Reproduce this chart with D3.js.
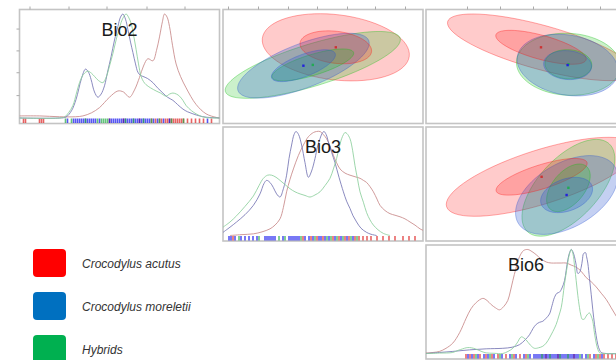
<!DOCTYPE html>
<html>
<head>
<meta charset="utf-8">
<script src="https://cdn.jsdelivr.net/npm/d3@7"></script>
<style>
  body { margin: 0; background: #fff; }
  svg { display: block; font-family: "Liberation Sans", Arial, sans-serif; }
</style>
</head>
<body>
<svg id="chart" width="616" height="360"></svg>
<script>
const groups = ['acutus', 'moreletii', 'hybrids']
const legendLabels = ['Crocodylus acutus', 'Crocodylus moreletii', 'Hybrids']
const variables = ['Bio2', 'Bio3', 'Bio6']

// density curves: x as % of variable range, y scaled so the highest peak is 1
const bio2Acutus = [[0,.02],[10,.02],[20,.012],[28,.012],[31.7,.02],[36,.05],[40,.1],[45,.2],[49.2,.26],[52,.25],[55,.2],[57.5,.27],[60,.39],[62,.5],[64.2,.57],[66.7,.55],[68.5,.65],[70,.78],[71.5,.93],[72.5,1],[73.8,.97],[75,.88],[76.5,.7],[78.3,.52],[80.5,.4],[83.3,.29],[88.3,.13],[93.3,.04],[98.3,.006],[100,0]]
const bio2Moreletii = [[0,0],[20,0],[23.3,.01],[26,.07],[28.3,.18],[31,.38],[33,.47],[34.5,.44],[35.8,.37],[37.5,.25],[39.2,.2],[40.8,.23],[42.5,.31],[44,.44],[45.8,.59],[47.5,.75],[49.2,.88],[50.5,.97],[51.7,1],[53,.95],[54.2,.85],[55.5,.73],[56.7,.63],[58,.52],[59.2,.44],[60.5,.41],[61.7,.40],[64,.38],[66.7,.34],[69,.29],[71.7,.24],[74,.2],[76.7,.17],[79,.13],[81.7,.086],[84,.06],[86.7,.04],[90,.02],[93.3,.008],[100,0]]
const bio2Hybrids = [[0,0],[20,0],[22.5,.01],[24.5,.05],[26.7,.12],[28.5,.24],[30,.34],[32,.42],[34.2,.45],[36,.43],[37.5,.40],[39.5,.36],[41.7,.34],[43.5,.4],[45,.5],[46.7,.62],[48.3,.75],[50,.87],[51.7,.96],[53.3,1],[54.5,.97],[55.8,.91],[57,.8],[58.3,.66],[59.5,.52],[60.8,.4],[62,.35],[63.3,.32],[65.5,.29],[68.3,.26],[70.5,.24],[73.3,.21],[75,.23],[76.7,.24],[78.5,.23],[80,.21],[81.7,.17],[83.3,.12],[86,.07],[88.3,.04],[91,.015],[93.3,.004],[100,0]]

const bio3Acutus = [[3.5,0],[9,.008],[15.2,.016],[19.5,.035],[23.5,.064],[26,.1],[28.5,.16],[30.2,.27],[31.8,.42],[33.5,.54],[35.2,.64],[37.7,.77],[40.2,.87],[42.7,.95],[45.2,.99],[46.8,1],[48.5,1],[50.2,.97],[51.8,.93],[53.5,.86],[55.2,.77],[56.8,.7],[58.5,.64],[61,.6],[63.5,.58],[66,.565],[68.5,.55],[70.2,.53],[71.8,.51],[73.5,.47],[75.2,.42],[77,.35],[78.5,.29],[81,.24],[83.5,.21],[86,.195],[88.5,.18],[91,.16],[93.5,.13],[96,.1],[98.5,.064],[100,.05]]
const bio3Moreletii = [[0,.03],[3.5,.08],[6.8,.13],[11,.2],[15.2,.29],[18.5,.4],[20.5,.5],[21.8,.53],[23.5,.51],[25.2,.46],[26.8,.4],[28.5,.37],[30.2,.45],[31.8,.58],[33,.74],[34.3,.87],[35.5,.97],[36.5,1],[37.8,.97],[39.3,.87],[41,.7],[42.7,.56],[44.3,.62],[46,.74],[47.3,.86],[48.5,.93],[49.5,.98],[50.5,1],[51.6,.97],[52.7,.9],[54.3,.8],[56,.7],[58,.56],[60.2,.42],[61.8,.33],[63.5,.26],[65,.19],[66.8,.13],[69,.07],[71.8,.03],[74,.012],[76.8,0]]
const bio3Hybrids = [[0,.08],[3.5,.13],[6.8,.19],[11,.28],[15.2,.38],[18,.48],[20.2,.55],[22.3,.58],[24.3,.58],[26.5,.56],[28.5,.53],[31,.49],[33.5,.45],[36,.42],[38.5,.4],[41,.385],[43.5,.37],[46,.39],[48.5,.42],[51,.48],[53.5,.55],[55.2,.64],[56.8,.74],[58,.84],[59.3,.93],[60.2,.97],[61,.99],[62,.98],[63.5,.93],[64.8,.82],[66,.67],[67.2,.55],[68.5,.42],[70.2,.32],[71.8,.22],[73.5,.15],[75.2,.1],[77.5,.055],[80.2,.02],[83.5,0]]

const bio6Acutus = [[0,.005],[3.5,.01],[6.75,.02],[10,.05],[13.4,.1],[16.8,.2],[20.1,.34],[22.5,.43],[25.1,.49],[28.4,.53],[30.5,.51],[32.6,.47],[34.7,.44],[36.75,.42],[38.8,.45],[40.9,.51],[42.2,.6],[43.4,.7],[45,.82],[46.75,.93],[48.8,.99],[50.9,1],[53,.98],[55.1,.95],[57.5,.91],[60.1,.88],[62.6,.87],[65.1,.87],[67.6,.87],[70.1,.87],[72.6,.85],[75.1,.83],[77.6,.79],[80.1,.73],[82.6,.69],[85.1,.64],[87.6,.58],[90.1,.52],[92.6,.44],[95.1,.36],[97.6,.28],[100,.21]]
const bio6Moreletii = [[0,0],[6.75,.01],[13.4,.02],[21.75,.035],[30.1,.045],[38.4,.05],[43,.06],[46.75,.085],[49.5,.13],[51.75,.18],[53.5,.24],[55.1,.28],[56.75,.3],[58.4,.31],[60.1,.34],[61.75,.38],[63,.46],[64.25,.54],[65.5,.58],[66.75,.59],[68,.63],[69.25,.7],[70.1,.8],[70.9,.9],[71.8,.97],[72.6,1],[73.4,.98],[74.25,.93],[75.1,.85],[75.9,.77],[76.8,.78],[77.6,.83],[78.2,.9],[78.75,.96],[79.75,.97],[80.3,.93],[80.9,.87],[81.75,.72],[82.6,.57],[83.4,.42],[84.25,.28],[85.1,.17],[85.9,.085],[86.75,.035],[87.6,.01],[90.1,0],[100,0]]
const bio6Hybrids = [[0,0],[6.75,.004],[13.4,.01],[16,.03],[18.4,.045],[20.1,.055],[21.75,.057],[23.8,.05],[25.9,.035],[28,.018],[30.1,.006],[34,.002],[38.4,0],[41,.02],[43.4,.05],[45.5,.1],[47.6,.16],[48.9,.15],[50.1,.13],[52.2,.08],[54.25,.05],[56.3,.055],[58.4,.07],[60.1,.1],[61.75,.15],[63.4,.21],[65.1,.28],[66.4,.36],[67.6,.44],[68.4,.54],[69.25,.67],[70.3,.8],[71.4,.93],[72.1,.98],[72.6,1],[73.2,.98],[73.75,.93],[74.4,.82],[75.1,.7],[75.9,.56],[76.75,.44],[77.4,.37],[78.1,.33],[79.1,.33],[80.1,.36],[80.9,.38],[81.75,.39],[82.6,.36],[83.4,.31],[84.2,.2],[85.1,.1],[85.9,.04],[86.75,.008],[88.4,0],[100,0]]

const densities = {
  Bio2: [bio2Acutus, bio2Moreletii, bio2Hybrids],
  Bio3: [bio3Acutus, bio3Moreletii, bio3Hybrids],
  Bio6: [bio6Acutus, bio6Moreletii, bio6Hybrids]
}

// rug marks: observations as % of variable range
const bio2RugAcutus = [2, 3, 10, 11, 12, 45, 52, 60, 66, 68, 70, 71, 73, 74, 75, 76, 77, 78, 79, 80, 81, 82, 84, 86, 88, 90, 92, 96]
const bio2RugMoreletii = [24, 27, 28, 29, 30, 31, 32, 33, 34, 35, 36, 37, 38, 40, 45, 46, 47, 48, 49, 50, 51, 52, 53, 54, 55, 56, 57, 58, 59, 60, 61, 62, 63, 64, 65, 67, 69, 72, 75, 94]
const bio2RugHybrids = [23, 26, 33, 39, 41, 42, 43, 44, 53, 57, 62, 66, 70, 76, 82]
const bio3RugAcutus = [5, 40, 44, 47, 50, 55, 58, 61, 63, 66, 68, 70, 72, 74, 77, 80, 83, 86, 90, 93, 96]
const bio3RugMoreletii = [3, 4, 6, 9, 11, 13, 15, 17, 21, 22, 23, 24, 25, 26, 30, 33, 34, 35, 36, 37, 38, 41, 43, 45, 48, 49, 51, 53, 56, 59, 62, 65]
const bio3RugHybrids = [8, 18, 28, 31, 39, 46, 52, 54, 57, 60, 64, 67]
const bio6RugAcutus = [20, 22, 24, 27, 30, 33, 36, 40, 44, 47, 50, 60, 66, 74, 82, 85, 87, 89, 91, 93, 95]
const bio6RugMoreletii = [21, 23, 26, 29, 31, 34, 38, 42, 45, 49, 52, 54, 55, 56, 57, 58, 59, 60, 61, 62, 63, 64, 65, 66, 67, 68, 69, 70, 71, 72, 73, 74, 75, 76, 78, 80, 84, 88]
const bio6RugHybrids = [25, 32, 37, 43, 51, 58, 62, 67, 71, 77, 81, 86]

const rugs = {
  Bio2: [bio2RugAcutus, bio2RugMoreletii, bio2RugHybrids],
  Bio3: [bio3RugAcutus, bio3RugMoreletii, bio3RugHybrids],
  Bio6: [bio6RugAcutus, bio6RugMoreletii, bio6RugHybrids]
}

// confidence ellipses: [group, cx, cy, semi-axis a, semi-axis b, angle deg], outer then inner
const ellBio2Bio3 = [
  ['acutus', 56.4, 38.1, 37, 16.3, -7], ['hybrids', 44.9, 29.3, 45.7, 10.5, 17], ['moreletii', 40.2, 28.9, 35, 11, 21],
  ['acutus', 56.4, 38.1, 18, 8, -7], ['hybrids', 44.9, 29.3, 21.3, 5.2, 17], ['moreletii', 40.2, 28.9, 17, 5.5, 21]
]
const ellBio2Bio6 = [
  ['acutus', 57.5, 38.1, 48.4, 11, -15.4], ['hybrids', 71.2, 29.6, 26, 15.5, -3], ['moreletii', 70.8, 29.2, 25.5, 15, -10],
  ['acutus', 57.5, 38.1, 23.4, 6, -15.4], ['hybrids', 71.2, 29.6, 11.7, 7.3, -3], ['moreletii', 70.8, 29.2, 12, 7.2, -5]
]
const ellBio3Bio6 = [
  ['acutus', 57.8, 32.1, 49.8, 13.5, 17.5], ['hybrids', 71.2, 26.6, 30, 15, 47], ['moreletii', 70.3, 23, 28, 16, 30],
  ['acutus', 57.8, 32.1, 23.8, 6, 17.5], ['hybrids', 71.2, 26.6, 14, 8, 50], ['moreletii', 70.3, 23, 13.5, 8, 20]
]

const topTicks = [[5, 24.5, 43.5, 63.5, 82.5], [2.5, 17.5, 32.5, 47, 62, 76, 91], [20.5, 37, 53.5, 70.5, 87]]
const leftTicks = [0.22, 0.44, 0.65, 0.86]

const lineColor = { acutus: '#c88a8a', moreletii: '#7676b4', hybrids: '#8ccf9c' }
const rugColor = { acutus: '#dd2222', moreletii: '#1010ee', hybrids: '#22aa44' }
const fillColor = { acutus: '#ff1010', moreletii: '#2a55d0', hybrids: '#10c010' }
const fillOpacity = { acutus: 0.22, moreletii: 0.28, hybrids: 0.22 }
const dotColor = { acutus: '#cc3333', moreletii: '#2222dd', hybrids: '#22aa55' }
const legendColor = ['#ff0000', '#0070c0', '#00b050']

const svg = d3.select('#chart')
const lefts = [19.5, 223, 426]
const tops = [9.5, 127, 245]
const pw = 200, ph = 114

const defs = svg.append('defs')

function panel(row, col) {
  const id = 'clip-' + row + '-' + col
  defs.append('clipPath').attr('id', id)
    .append('rect').attr('x', lefts[col]).attr('y', tops[row]).attr('width', pw).attr('height', ph)
  const g = svg.append('g')
  g.append('rect')
    .attr('x', lefts[col]).attr('y', tops[row])
    .attr('width', pw).attr('height', ph)
    .attr('fill', '#fff').attr('stroke', '#c4c4c4').attr('stroke-width', 1.6)
  return g.append('g').attr('clip-path', 'url(#' + id + ')')
}

// diagonal: density + rug
variables.forEach((v, i) => {
  const g = panel(i, i)
  const x = d3.scaleLinear().domain([0, 100]).range([lefts[i], lefts[i] + pw])
  const y = d3.scaleLinear().domain([0, 1]).range([tops[i] + 108.5, tops[i] + 4.5])
  const line = d3.line().x(d => x(d[0])).y(d => y(d[1])).curve(d3.curveCatmullRom.alpha(0.5))

  groups.forEach((gr, k) => {
    g.selectAll(null).data(rugs[v][k]).enter().append('line')
      .attr('x1', d => x(d)).attr('x2', d => x(d))
      .attr('y1', tops[i] + 109).attr('y2', tops[i] + 113.5)
      .attr('stroke', rugColor[gr]).attr('stroke-width', 1.6).attr('opacity', 0.7)
  })
  groups.forEach((gr, k) => {
    g.append('path').datum(densities[v][k])
      .attr('d', line).attr('fill', 'none')
      .attr('stroke', lineColor[gr]).attr('stroke-width', 1).attr('opacity', 0.85)
  })

  svg.append('text')
    .attr('x', lefts[i] + pw / 2).attr('y', tops[i] + 26)
    .attr('text-anchor', 'middle').attr('font-size', 18).attr('fill', '#1a1a1a')
    .text(v)

  if (i === 0) {
    svg.append('g').attr('transform', 'translate(' + lefts[0] + ',0)')
      .call(d3.axisLeft(y).tickValues(leftTicks).tickFormat('').tickSize(3))
      .call(a => a.select('.domain').remove())
      .call(a => a.selectAll('line').attr('stroke', '#aaa'))
  }
})

// upper triangle: ellipses
const ellipsePanels = [[0, 1, ellBio2Bio3], [0, 2, ellBio2Bio6], [1, 2, ellBio3Bio6]]
ellipsePanels.forEach(([row, col, ells]) => {
  const g = panel(row, col)
  const x = d3.scaleLinear().domain([0, 100]).range([lefts[col], lefts[col] + pw])
  const y = d3.scaleLinear().domain([0, 57]).range([tops[row] + ph, tops[row]])
  const steps = d3.range(0, 73).map(k => k / 72 * 2 * Math.PI)
  const line = d3.line().x(d => x(d[0])).y(d => y(d[1])).curve(d3.curveLinearClosed)

  ells.forEach(([gr, cx, cy, a, b, ang]) => {
    const th = ang * Math.PI / 180
    const pts = steps.map(t => [
      cx + a * Math.cos(t) * Math.cos(th) - b * Math.sin(t) * Math.sin(th),
      cy + a * Math.cos(t) * Math.sin(th) + b * Math.sin(t) * Math.cos(th)
    ])
    g.append('path').datum(pts).attr('d', line)
      .attr('fill', fillColor[gr]).attr('fill-opacity', fillOpacity[gr])
      .attr('stroke', fillColor[gr]).attr('stroke-opacity', 0.35).attr('stroke-width', 1)
  })
  ells.slice(0, 3).forEach(([gr, cx, cy]) => {
    g.append('rect').attr('x', x(cx) - 1.2).attr('y', y(cy) - 1.2)
      .attr('width', 2.4).attr('height', 2.4).attr('fill', dotColor[gr])
  })
})

// outer top ticks on first row
topTicks.forEach((tv, col) => {
  const x = d3.scaleLinear().domain([0, 100]).range([lefts[col], lefts[col] + pw])
  svg.append('g').attr('transform', 'translate(0,' + tops[0] + ')')
    .call(d3.axisTop(x).tickValues(tv).tickFormat('').tickSize(3))
    .call(a => a.select('.domain').remove())
    .call(a => a.selectAll('line').attr('stroke', '#aaa'))
})

// legend
const legend = svg.append('g')
legendLabels.forEach((lab, k) => {
  const ly = 249 + k * 43
  legend.append('rect').attr('x', 33).attr('y', ly).attr('width', 33).attr('height', 28)
    .attr('rx', 4).attr('fill', legendColor[k])
  legend.append('text').attr('x', 82).attr('y', ly + 18.5)
    .attr('font-size', 12).attr('font-style', 'italic').attr('fill', '#333')
    .text(lab)
})
</script>
</body>
</html>
